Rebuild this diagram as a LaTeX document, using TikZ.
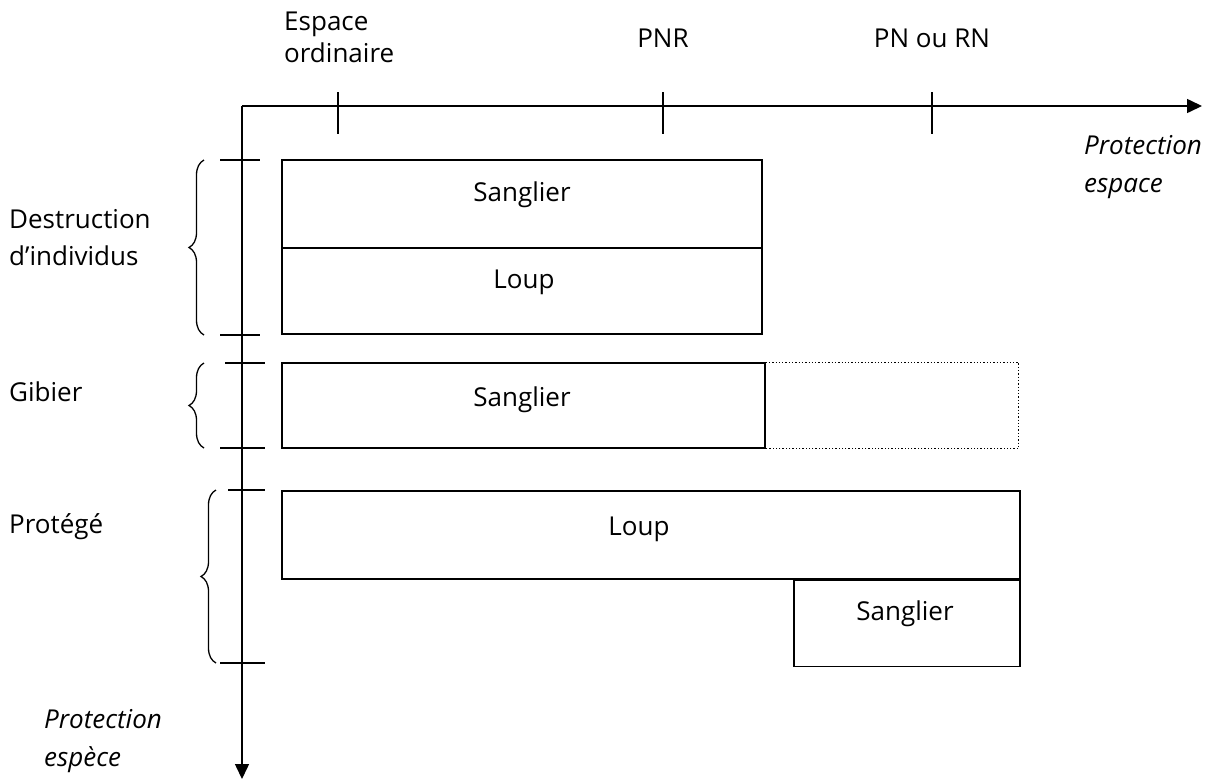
\documentclass[tikz,border=0pt]{standalone}
\usepackage{fontspec}
\setmainfont{Open Sans}
\usetikzlibrary{arrows.meta,decorations.pathreplacing}
\tikzset{
  box/.style={draw, line width=1.3pt, inner sep=0pt},
  lbl/.style={inner sep=0pt, font=\fontsize{26}{37}\selectfont},
  ilbl/.style={inner sep=0pt, font=\fontsize{26}{38}\selectfont\itshape, align=left},
  axis/.style={line width=1.5pt},
  tick/.style={line width=1.3pt},
  brc/.style={line width=1.3pt, decorate, decoration={brace, amplitude=15pt, aspect=0.5}},
}
\begin{document}
\begin{tikzpicture}[x=1pt,y=-1pt]
\useasboundingbox (0,0) rectangle (1230,782);
% axes
\coordinate (O) at (242,106);
\coordinate (XE) at (1202,106);
\coordinate (YE) at (242,779);
\draw[axis,-{Triangle[length=15pt,width=14pt]}] (O) -- (XE);
\draw[axis,-{Triangle[length=15pt,width=14pt]}] (O) -- (YE);
% ticks on x axis
\coordinate (t1) at (338,92); \coordinate (t2) at (663,92); \coordinate (t3) at (932,92);
\draw[tick] (t1) -- ++(0,42);
\draw[tick] (t2) -- ++(0,42);
\draw[tick] (t3) -- ++(0,42);
\node[lbl, align=left, anchor=west, font=\fontsize{26}{32}\selectfont] (eo) at (284,37) {Espace\\ordinaire};
\node[lbl] (pnr) at (663,38) {PNR};
\node[lbl] (pn) at (932,38) {PN ou RN};
\node[ilbl, anchor=west] (pe) at (1084,167) {Protection\\espace};
% ticks on y axis
\coordinate (h1) at (220,160); \coordinate (h2) at (220,335);
\coordinate (h3) at (225,363); \coordinate (h4) at (220,448);
\coordinate (h5) at (228,490); \coordinate (h6) at (220,663);
\draw[tick] (h1) -- ++(40,0);
\draw[tick] (h2) -- ++(40,0);
\draw[tick] (h3) -- ++(40,0);
\draw[tick] (h4) -- ++(45,0);
\draw[tick] (h5) -- ++(37,0);
\draw[tick] (h6) -- ++(45,0);
% braces
\coordinate (b1a) at (204,335); \coordinate (b1b) at (204,160);
\coordinate (b2a) at (204,448); \coordinate (b2b) at (204,363);
\coordinate (b3a) at (216,663); \coordinate (b3b) at (216,490);
\draw[brc] (b1a) -- (b1b);
\draw[brc] (b2a) -- (b2b);
\draw[brc] (b3a) -- (b3b);
\node[lbl, align=left, anchor=west] (di) at (9,238) {Destruction\\d'individus};
\node[lbl, anchor=west] (gib) at (9,392) {Gibier};
\node[lbl, anchor=west] (pro) at (9,527) {Protégé};
% boxes
\node[box, minimum width=480pt, minimum height=88pt] (s1) at (522,204) {};
\node[box, minimum width=480pt, minimum height=86pt] (l1) at (522,291) {};
\node[box, minimum width=483pt, minimum height=85pt] (s2) at (523.5,405.5) {};
\draw[line width=1.3pt, dotted] (s2.north east) -- ++(253,0) |- (s2.south east);
\node[box, minimum width=738pt, minimum height=88pt] (l2) at (651,535) {};
\node[box, minimum width=226pt, minimum height=86pt, anchor=north east] (s3) at (l2.south east) {};
\node[lbl] (s1t) at (522,195) {Sanglier};
\node[lbl] (l1t) at (524,282) {Loup};
\node[lbl] (s2t) at (522,400) {Sanglier};
\node[lbl] (l2t) at (639,529) {Loup};
\node[lbl] (s3t) at (905,614) {Sanglier};
\node[ilbl, anchor=west] (ps) at (44,741) {Protection\\espèce};
\end{tikzpicture}
\end{document}
